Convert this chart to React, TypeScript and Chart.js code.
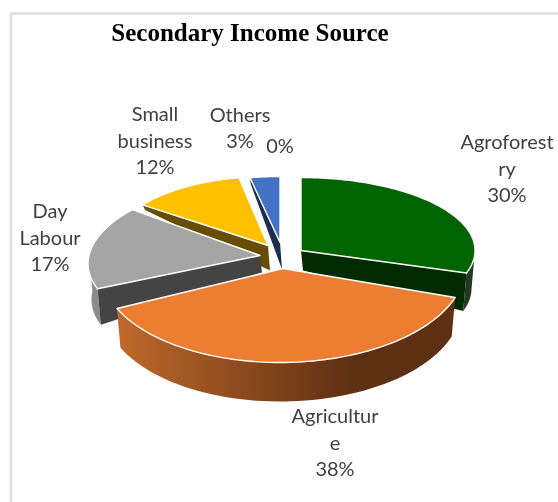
import React, { useEffect, useRef } from "react";
import { Chart, registerables } from "chart.js";

Chart.register(...registerables);

const categories = ["Agroforestry", "Agriculture", "Day Labour", "Small business", "Others", ""];
const shares = [30, 38, 17, 12, 3, 0];
const topColors = ["#006400", "#ED7D31", "#A5A5A5", "#FFC000", "#4472C4", "#5B9BD5"];
const faceColors = ["#002B00", "#5E3013", "#444444", "#664D00", "#1B2E50", "#2A4A66"];
const wallColors = ["#1F3A1F", "#5E3013", "#8C8C8C", "#664D00", "#1B2E50", "#2A4A66"];
const wrappedLabels = [["Agroforest", "ry"], ["Agricultur", "e"], ["Day", "Labour"], ["Small", "business"], ["Others"], []];

// Per-slice projection, relative to the pie centre: shift, radii, shear and extrusion.
const projection = [
  { dx: 51, dy: -5, rx: 174, ry: 73, k: 0, depthOuter: 38, depthInner: 20, cut: "end" },
  { dx: 33, dy: 13, rx: 182, ry: 94, k: -3, depthOuter: 39, depthInner: 20, cut: "" },
  { dx: 10, dy: 0, rx: 171, ry: 78, k: -18, depthOuter: 36, depthInner: 17, cut: "start" },
  { dx: 18, dy: -10, rx: 155, ry: 69, k: 0, depthOuter: 5, depthInner: 25, cut: "start" },
  { dx: 30, dy: -13, rx: 160, ry: 66, k: 0, depthOuter: 6, depthInner: 27, cut: "start" },
  { dx: 50, dy: -5, rx: 160, ry: 66, k: 0, depthOuter: 0, depthInner: 0, cut: "" },
];
const drawOrder = [4, 3, 2, 0, 1];

// Text block centres, relative to the pie centre.
const labelOffsets = [
  { x: 257, y: -86 },
  { x: 85, y: 188 },
  { x: -200, y: -17 },
  { x: -95, y: -114 },
  { x: -10, y: -127 },
  { x: 30, y: -109 },
];
const LINE_HEIGHT = 26.5;

function pointOn(ax: number, ay: number, p: any, theta: number, shrink = 1, drop = 0) {
  return {
    x: ax + (p.rx * Math.cos(theta) + p.k * Math.sin(theta)) * shrink,
    y: ay + p.ry * Math.sin(theta) + drop,
  };
}

const pie3d = {
  id: "pie3d",
  beforeDraw(chart: any) {
    const { ctx } = chart;
    ctx.save();
    ctx.strokeStyle = "#DDDDDD";
    ctx.lineWidth = 2.5;
    ctx.beginPath();
    ctx.moveTo(11, chart.height);
    ctx.lineTo(11, 13.5);
    ctx.lineTo(chart.width, 13.5);
    ctx.stroke();
    ctx.restore();
  },
  beforeDatasetDraw(chart: any) {
    const { ctx } = chart;
    const arcs = chart.getDatasetMeta(0).data;
    for (const i of drawOrder) {
      const arc = arcs[i];
      const p = projection[i];
      if (!arc.circumference) continue;
      const R = arc.outerRadius;
      const ax = arc.x + p.dx;
      const ay = arc.y + p.dy;
      const shrink = 0.98;

      // Curved outer wall, only on the half that faces the viewer.
      const from = Math.max(arc.startAngle, 0);
      const to = Math.min(arc.endAngle, Math.PI);
      if (to > from && p.depthOuter > 0) {
        ctx.save();
        ctx.beginPath();
        const steps = 60;
        for (let s = 0; s <= steps; s++) {
          const pt = pointOn(ax, ay, p, from + ((to - from) * s) / steps);
          s ? ctx.lineTo(pt.x, pt.y) : ctx.moveTo(pt.x, pt.y);
        }
        for (let s = steps; s >= 0; s--) {
          const pt = pointOn(ax, ay, p, from + ((to - from) * s) / steps, shrink, p.depthOuter);
          ctx.lineTo(pt.x, pt.y);
        }
        ctx.closePath();
        if (categories[i] === "Agriculture") {
          const g = ctx.createLinearGradient(ax - p.rx, 0, ax + 70, 0);
          g.addColorStop(0, "#C56D2C");
          g.addColorStop(1, wallColors[i]);
          ctx.fillStyle = g;
        } else {
          ctx.fillStyle = wallColors[i];
        }
        ctx.fill();
        ctx.restore();
      }

      // Flat cut face along the radial edge that is turned to the front.
      if (p.cut) {
        const theta = p.cut === "end" ? arc.endAngle : arc.startAngle;
        const outer = pointOn(ax, ay, p, theta);
        const outerLow = pointOn(ax, ay, p, theta, shrink, p.depthOuter);
        ctx.beginPath();
        ctx.moveTo(ax, ay);
        ctx.lineTo(outer.x, outer.y);
        ctx.lineTo(outerLow.x, outerLow.y);
        ctx.lineTo(ax + 2, ay + p.depthInner);
        ctx.closePath();
        ctx.fillStyle = faceColors[i];
        ctx.fill();
      }

      // Top surface: the library's own arc, projected onto the tilted plane.
      ctx.save();
      ctx.translate(ax, ay);
      ctx.transform(p.rx / R, 0, p.k / R, p.ry / R, 0, 0);
      ctx.translate(-arc.x, -arc.y);
      arc.draw(ctx);
      ctx.restore();

      ctx.beginPath();
      ctx.moveTo(ax, ay);
      const steps = 80;
      for (let s = 0; s <= steps; s++) {
        const pt = pointOn(ax, ay, p, arc.startAngle + ((arc.endAngle - arc.startAngle) * s) / steps);
        ctx.lineTo(pt.x, pt.y);
      }
      ctx.closePath();
      ctx.strokeStyle = "#FFFFFF";
      ctx.lineWidth = 1.4;
      ctx.lineJoin = "round";
      ctx.stroke();
    }
    return false;
  },
  afterDatasetsDraw(chart: any) {
    const { ctx } = chart;
    const arcs = chart.getDatasetMeta(0).data;
    const total = shares.reduce((a, b) => a + b, 0);
    ctx.save();
    ctx.font = '20px Lato, "Open Sans", sans-serif';
    ctx.fillStyle = "#404040";
    ctx.textAlign = "center";
    ctx.textBaseline = "middle";
    shares.forEach((value, i) => {
      const lines = [...wrappedLabels[i], `${Math.round((value / total) * 100)}%`];
      const cx = arcs[i].x + labelOffsets[i].x;
      const cy = arcs[i].y + labelOffsets[i].y;
      lines.forEach((line, n) => {
        ctx.fillText(line, cx, cy + (n - (lines.length - 1) / 2) * LINE_HEIGHT);
      });
    });
    ctx.restore();
  },
};

export default function App() {
  const ref = useRef<HTMLCanvasElement>(null);
  useEffect(() => {
    const chart = new Chart(ref.current as HTMLCanvasElement, {
      type: "pie",
      data: {
        labels: categories,
        datasets: [{ data: shares, backgroundColor: topColors, borderWidth: 0 }],
      },
      options: {
        responsive: false,
        animation: false,
        layout: { padding: { left: 0, right: 58, top: 0, bottom: 50 } },
        plugins: {
          legend: { display: false },
          tooltip: { enabled: false },
          title: {
            display: true,
            text: "Secondary Income Source",
            fullSize: false,
            color: "#000000",
            font: { family: '"Liberation Serif", serif', size: 25, weight: "bold" },
            padding: { top: 20, bottom: 9 },
          },
        },
      },
      plugins: [pie3d],
    } as any);
    return () => chart.destroy();
  }, []);
  return (
    <canvas
      ref={ref}
      width={558}
      height={502}
      style={{ position: "absolute", left: 0, top: 0 }}
    />
  );
}
